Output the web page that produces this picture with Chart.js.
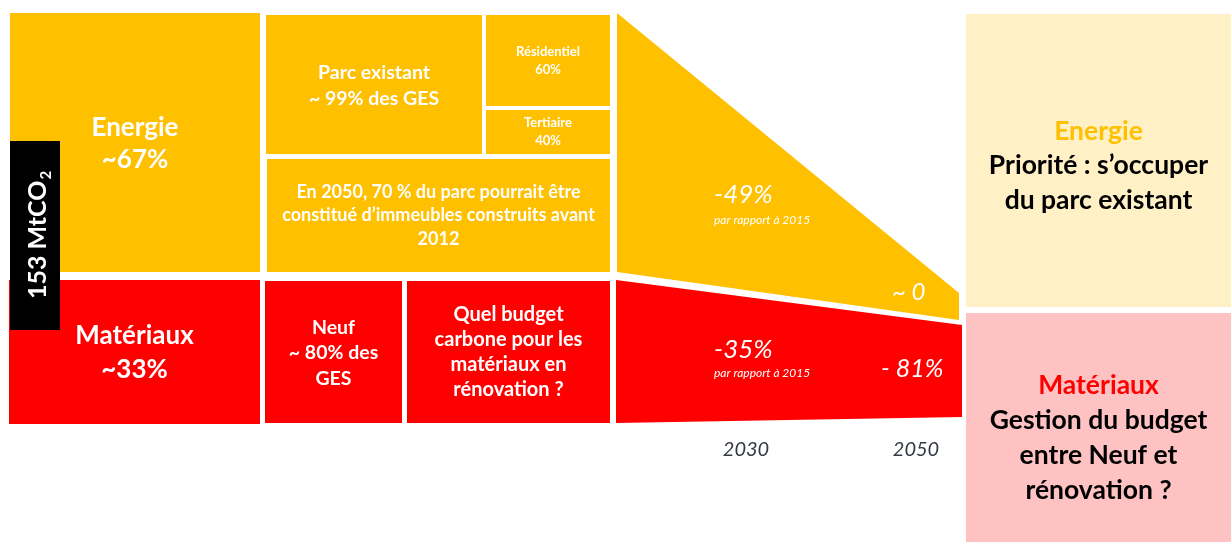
<!DOCTYPE html>
<html>
<head>
<meta charset="utf-8">
<script src="https://cdn.jsdelivr.net/npm/chart.js@4"></script>
<style>
  html, body { margin: 0; padding: 0; background: #fff; }
  #wrap { position: relative; width: 1231px; height: 542px; }
</style>
</head>
<body>
<div id="wrap"><canvas id="chart" width="1231" height="542"></canvas></div>
<script>
// values
const totalEmissions = 153; // MtCO2
const mainCategories = ['Energie', 'Matériaux'];
const mainShares = [67, 33];
const energySplitLabels = ['Résidentiel', 'Tertiaire'];
const energySplitShares = [60, 40];
const existingStockShare = 99;
const newBuildShare = 80;
const years = ['2030', '2050'];
const energyCuts = ['-49%', '~ 0'];
const materialCuts = ['-35%', '- 81%'];
const refYear = 2015;

// diagram layout in axis units: [x0, x1, yTop, yBottom]
const tiles = {
  total: [10, 60, 141, 330],
  energy: [10, 260, 13, 272],
  materials: [9, 260, 280, 424],
  existing: [266, 482, 15, 154],
  residential: [486, 610, 15, 106],
  tertiary: [486, 610, 110, 154],
  note2050: [267, 610, 159, 272],
  newBuild: [265, 402, 281, 423],
  renovation: [407, 610, 281, 423],
  panelEnergy: [966, 1240, 14, 307],
  panelMaterials: [966, 1240, 313, 562]
};
const bands = {
  energy: { x: [617, 959], top: [13, 293], bottom: [272, 320] },
  materials: { x: [616, 962], top: [280, 325], bottom: [423, 417] }
};

const YELLOW = '#FFC000';
const RED = '#FF0000';
const NONE = 'rgba(0,0,0,0)';

function rectSet(box, color) {
  const [x0, x1, yt, yb] = box;
  return {
    data: [{ x: x0, y: yt }, { x: x1, y: yt }],
    fill: { target: { value: yb } },
    backgroundColor: color,
    borderColor: NONE,
    borderWidth: 0,
    pointRadius: 0
  };
}

function bandSets(band, color) {
  return [
    {
      data: band.x.map((x, i) => ({ x, y: band.top[i] })),
      fill: '+1',
      backgroundColor: color,
      borderColor: NONE,
      borderWidth: 0,
      pointRadius: 0
    },
    {
      data: band.x.map((x, i) => ({ x, y: band.bottom[i] })),
      fill: false,
      borderColor: NONE,
      borderWidth: 0,
      pointRadius: 0
    }
  ];
}

const datasets = [
  rectSet(tiles.total, '#000000'),
  rectSet(tiles.energy, YELLOW),
  rectSet(tiles.materials, RED),
  rectSet(tiles.existing, YELLOW),
  rectSet(tiles.residential, YELLOW),
  rectSet(tiles.tertiary, YELLOW),
  rectSet(tiles.note2050, YELLOW),
  rectSet(tiles.newBuild, RED),
  rectSet(tiles.renovation, RED),
  ...bandSets(bands.energy, YELLOW),
  ...bandSets(bands.materials, RED),
  rectSet(tiles.panelEnergy, '#FFF0C6'),
  rectSet(tiles.panelMaterials, '#FFC2C2')
];

const FONT = 'Lato, "Open Sans", sans-serif';
const W = '#FFFFFF';
const B = (px) => 'bold ' + px + 'px ' + FONT;

const blockLabels = [
  { box: tiles.energy, dy: 1, lines: [mainCategories[0], '~' + mainShares[0] + '%'], font: B(26), lh: 32 },
  { box: tiles.materials, dy: 1, lines: [mainCategories[1], '~' + mainShares[1] + '%'], font: B(26), lh: 34 },
  { box: tiles.existing, dy: 1.5, lines: ['Parc existant', '~ ' + existingStockShare + '% des GES'], font: B(19.5), lh: 26 },
  { box: tiles.residential, lines: [energySplitLabels[0], energySplitShares[0] + '%'], font: B(13), lh: 18 },
  { box: tiles.tertiary, lines: [energySplitLabels[1], energySplitShares[1] + '%'], font: B(13), lh: 18 },
  { box: tiles.note2050, lines: ['En 2050, 70 % du parc pourrait être', 'constitué d’immeubles construits avant', '2012'], font: B(18), lh: 23.5 },
  { box: tiles.newBuild, dy: 1, lines: ['Neuf', '~ ' + newBuildShare + '% des', 'GES'], font: B(19.5), lh: 25.5 },
  { box: tiles.renovation, lines: ['Quel budget', 'carbone pour les', 'matériaux en', 'rénovation ?'], font: B(20), lh: 25 },
  { box: tiles.panelEnergy, dy: 5, lines: [mainCategories[0], 'Priorité : s’occuper', 'du parc existant'],
    colors: [YELLOW, '#000', '#000'], fonts: [B(26.5), B(26.5), B(26.5)], lh: 34.5 },
  { box: tiles.panelMaterials, dy: 10, lines: [mainCategories[1], 'Gestion du budget', 'entre Neuf et', 'rénovation ?'],
    colors: [RED, '#000', '#000', '#000'], fonts: [B(26.5), B(26.5), B(26.5), B(26.5)], lh: 35 }
];

const freeLabels = [
  { x: 714, y: 195, text: energyCuts[0], font: 'italic 26px ' + FONT, color: W, align: 'left' },
  { x: 714, y: 220, text: 'par rapport à ' + refYear, font: 'italic 12px ' + FONT, color: W, align: 'left' },
  { x: 892, y: 292, text: energyCuts[1], font: 'italic 24px ' + FONT, color: W, align: 'left' },
  { x: 714, y: 350, text: materialCuts[0], font: 'italic 26px ' + FONT, color: W, align: 'left' },
  { x: 714, y: 373, text: 'par rapport à ' + refYear, font: 'italic 12px ' + FONT, color: W, align: 'left' },
  { x: 881, y: 369, text: materialCuts[1], font: 'italic 25px ' + FONT, color: W, align: 'left' },
  { x: 746, y: 450, text: years[0], font: 'italic 20px ' + FONT, color: '#333A46', align: 'center' },
  { x: 916, y: 450, text: years[1], font: 'italic 20px ' + FONT, color: '#333A46', align: 'center' }
];

const textPlugin = {
  id: 'diagramText',
  afterDatasetsDraw(chart) {
    const { ctx, scales: { x, y } } = chart;
    ctx.save();
    ctx.textBaseline = 'middle';

    blockLabels.forEach((b) => {
      const [x0, x1, yt, yb] = b.box;
      const cx = x.getPixelForValue((x0 + Math.min(x1, 1231)) / 2);
      const cy = y.getPixelForValue((yt + Math.min(yb, 542)) / 2) + (b.dy || 0);
      const start = cy - ((b.lines.length - 1) * b.lh) / 2;
      ctx.textAlign = 'center';
      b.lines.forEach((line, i) => {
        ctx.font = b.fonts ? b.fonts[i] : b.font;
        ctx.fillStyle = b.colors ? b.colors[i] : W;
        ctx.fillText(line, cx, start + i * b.lh);
      });
    });

    freeLabels.forEach((l) => {
      ctx.font = l.font;
      ctx.fillStyle = l.color;
      ctx.textAlign = l.align;
      ctx.fillText(l.text, x.getPixelForValue(l.x), y.getPixelForValue(l.y));
    });

    // vertical total label with subscript
    const [bx0, bx1, byt, byb] = tiles.total;
    const main = totalEmissions + ' MtCO';
    const sub = '2';
    ctx.font = B(25);
    const wMain = ctx.measureText(main).width;
    ctx.font = B(15);
    const wSub = ctx.measureText(sub).width;
    const cx = x.getPixelForValue((bx0 + bx1) / 2) + 3;
    const cy = y.getPixelForValue((byt + byb) / 2);
    ctx.translate(cx, cy);
    ctx.rotate(-Math.PI / 2);
    ctx.fillStyle = W;
    ctx.textAlign = 'left';
    const startX = -(wMain + wSub) / 2;
    ctx.font = B(25);
    ctx.fillText(main, startX, 0);
    ctx.font = B(15);
    ctx.fillText(sub, startX + wMain + 1, 8);
    ctx.restore();
  }
};

new Chart(document.getElementById('chart'), {
  type: 'line',
  data: { datasets },
  options: {
    responsive: false,
    animation: false,
    layout: { padding: 0 },
    elements: { line: { tension: 0 } },
    scales: {
      x: { type: 'linear', min: 0, max: 1231, display: false },
      y: { type: 'linear', min: 0, max: 542, reverse: true, display: false }
    },
    plugins: { legend: { display: false }, tooltip: { enabled: false } }
  },
  plugins: [textPlugin]
});
</script>
</body>
</html>
